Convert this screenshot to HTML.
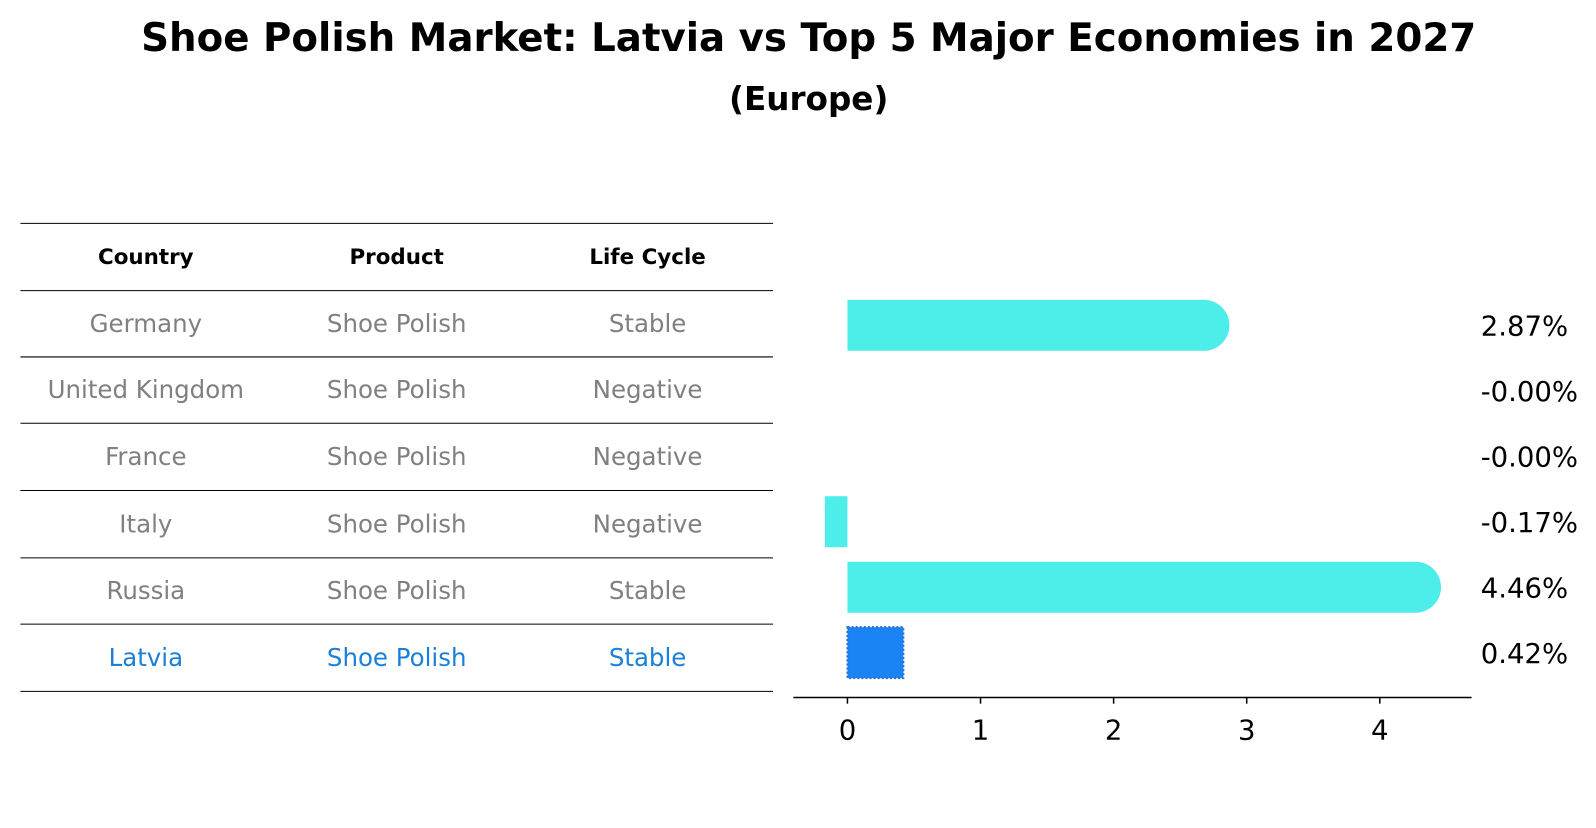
<!DOCTYPE html>
<html><head><meta charset="utf-8"><style>
body{margin:0;background:#fff;font-family:"Liberation Sans","DejaVu Sans",sans-serif}
</style></head><body>
<svg id="c" width="1596" height="823" xmlns="http://www.w3.org/2000/svg" font-family="DejaVu Sans, Liberation Sans, sans-serif">
<g transform="scale(1.0198)">
<text x="793" y="50" text-anchor="middle" font-size="38" font-weight="bold">Shoe Polish Market: Latvia vs Top 5 Major Economies in 2027</text>
<text x="793" y="108" text-anchor="middle" font-size="32" font-weight="bold">(Europe)</text>
<g id="table"></g>
<g id="bars"></g>
</g>
</svg>
<script>
const countries=["Germany","United Kingdom","France","Italy","Russia","Latvia"];
const products=["Shoe Polish","Shoe Polish","Shoe Polish","Shoe Polish","Shoe Polish","Shoe Polish"];
const lifecycle=["Stable","Negative","Negative","Negative","Stable","Stable"];
const values=[2.87,-0.00,-0.00,-0.17,4.46,0.42];
const valueLabels=["2.87%","-0.00%","-0.00%","-0.17%","4.46%","0.42%"];
const ticks=[0,1,2,3,4];
const NS="http://www.w3.org/2000/svg";
function mk(tag,attrs,parent,txt){const e=document.createElementNS(NS,tag);for(const k in attrs)e.setAttribute(k,attrs[k]);if(txt!==undefined)e.textContent=txt;parent.appendChild(e);return e;}
const tb=document.getElementById('table');
const lineY=[219,285,350,415,481,547,612,678];
lineY.forEach((y,i)=>{const l=mk('line',{x1:20,x2:758,y1:y,y2:y,stroke:'#000','stroke-width':1},tb);

});
const colX=[143,389,635];
["Country","Product","Life Cycle"].forEach((h,i)=>{const t=mk('text',{x:colX[i],y:259,'text-anchor':'middle','font-size':21,'font-weight':'bold'},tb,h);

});
countries.forEach((c,r)=>{const y=(lineY[r+1]+lineY[r+2])/2+8;const col=r===5?'#1a80d8':'#808080';
[c,products[r],lifecycle[r]].forEach((v,i)=>{const t=mk('text',{x:colX[i],y:y,'text-anchor':'middle','font-size':24,fill:col},tb,v);

});});
const bg=document.getElementById('bars');
const x0=831,ppu=130.5;const xs=v=>x0+v*ppu;
const yc=i=>319+i*64.2;const bh=50;
values.forEach((v,i)=>{const y=yc(i)-bh/2;let e;
if(i===5){e=mk('rect',{x:Math.min(xs(0),xs(v)),y:y,width:Math.abs(xs(v)-xs(0)),height:bh,fill:'#1a84f5',stroke:'#2a6fd0','stroke-width':2,'stroke-dasharray':'2,2'},bg);}
else if(v>1){const w=xs(v)-xs(0);const r=bh/2;
e=mk('path',{d:`M${xs(0)},${y}H${xs(0)+w-r}A${r},${r} 0 0 1 ${xs(0)+w-r},${y+bh}H${xs(0)}Z`,fill:'#4deeea'},bg);}
else{e=mk('rect',{x:Math.min(xs(0),xs(v)),y:y,width:Math.abs(xs(v)-xs(0)),height:bh,fill:'#4deeea'},bg);}


const t=mk('text',{x:1452,y:yc(i)+10,'font-size':27},bg,valueLabels[i]);

});
const ax=mk('line',{x1:778,x2:1443,y1:684,y2:684,stroke:'#000','stroke-width':1.5},bg);


ticks.forEach(tk=>{const l=mk('line',{x1:xs(tk),x2:xs(tk),y1:684,y2:690,stroke:'#000','stroke-width':1.5},bg);


const t=mk('text',{x:xs(tk),y:725,'text-anchor':'middle','font-size':27},bg,String(tk));

});
</script>
</body></html>
